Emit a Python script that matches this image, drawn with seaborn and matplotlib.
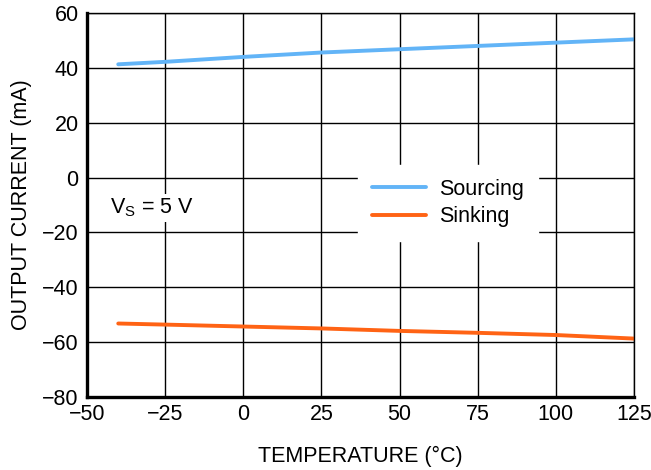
import numpy as np
import pandas as pd
import matplotlib
matplotlib.use("Agg")
import matplotlib.pyplot as plt
import seaborn as sns

# Datos
temperature = [-40, -25, 0, 25, 50, 75, 100, 125]
sourcing = [41.3, 42.2, 44.0, 45.6, 46.8, 48.0, 49.2, 50.4]
sinking = [-53.2, -53.6, -54.3, -55.0, -55.9, -56.6, -57.4, -58.7]

x_ticks = [-50, -25, 0, 25, 50, 75, 100, 125]
y_ticks = [-80, -60, -40, -20, 0, 20, 40, 60]

sns.set_theme(style="white")
plt.rcParams['font.family'] = ['Liberation Sans', 'DejaVu Sans']
plt.rcParams['text.color'] = 'black'

df = pd.DataFrame({
    'Temperature': temperature * 2,
    'Current': sourcing + sinking,
    'Mode': ['Sourcing'] * len(temperature) + ['Sinking'] * len(temperature),
})

fs = 15.5

fig = plt.figure(figsize=(6.51, 4.70), dpi=100)
ax = fig.add_axes([0.1336, 0.1553, 0.8403, 0.8170])

sns.lineplot(data=df, x='Temperature', y='Current', hue='Mode',
             palette={'Sourcing': '#62B4F7', 'Sinking': '#FF6314'},
             linewidth=2.8, ax=ax, legend=True)

ax.set_xlim(-50, 125)
ax.set_ylim(-80, 60)
ax.set_xticks(x_ticks)
ax.set_yticks(y_ticks)
ax.set_xticklabels([f"{v}".replace('-', '\u2212') for v in x_ticks], fontsize=fs)
ax.set_yticklabels([f"{v}".replace('-', '\u2212') for v in y_ticks], fontsize=fs)
ax.grid(True, color='black', linewidth=1.0)
ax.set_axisbelow(True)
ax.tick_params(axis='both', length=0, colors='black', labelcolor='black')
ax.tick_params(axis='y', pad=6)
ax.tick_params(axis='x', pad=5)

for side in ['top', 'right']:
    ax.spines[side].set_linewidth(1.0)
    ax.spines[side].set_color('black')
for side in ['left', 'bottom']:
    ax.spines[side].set_linewidth(2.4)
    ax.spines[side].set_color('black')

ax.set_xlabel('TEMPERATURE (\u00b0C)', fontsize=fs, labelpad=15, color='black')
ax.set_ylabel('OUTPUT CURRENT (mA)', fontsize=fs, labelpad=7, color='black')

leg = ax.legend(loc='center', bbox_to_anchor=(0.66, 0.505), frameon=True,
                fontsize=fs, handlelength=2.5, handletextpad=0.6,
                borderpad=0.35, borderaxespad=0, labelspacing=0.3)
leg.get_frame().set_facecolor('white')
leg.get_frame().set_edgecolor('white')
leg.get_frame().set_alpha(1.0)
leg.get_frame().set_boxstyle('square')
for line in leg.get_lines():
    line.set_linewidth(2.8)
for t in leg.get_texts():
    t.set_color('black')

ax.text(-42.5, -11, r'V$_\mathregular{S}$ = 5 V', fontsize=fs, va='center', ha='left',
        bbox=dict(facecolor='white', edgecolor='none', pad=2))

plt.savefig('out.png', dpi=100)
plt.close()
